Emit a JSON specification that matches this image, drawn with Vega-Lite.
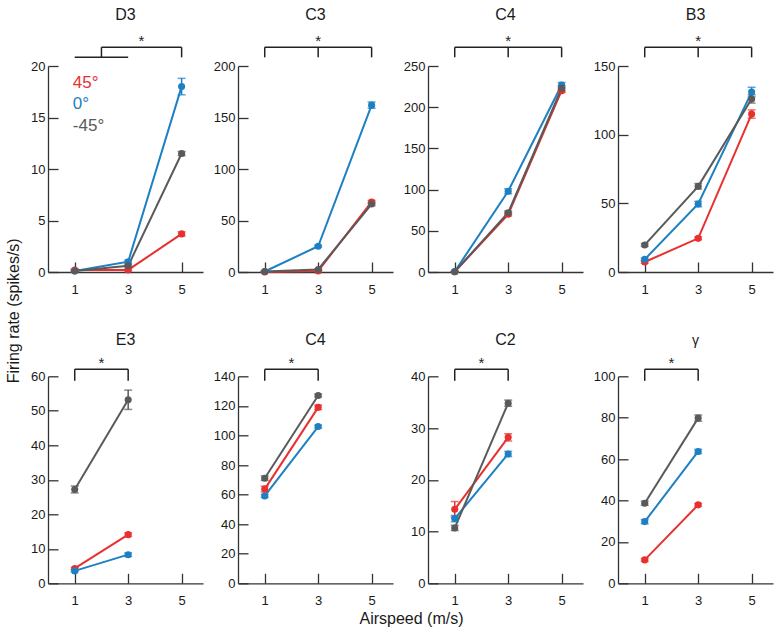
{
"$schema":"https://vega.github.io/schema/vega-lite/v6.json",
"padding":{"left":5,"top":7,"right":5,"bottom":5},
"datasets":{
"pts":[
{"p":"D3","a":"45°","s":1,"v":0.2,"lo":0.1,"hi":0.3},{"p":"D3","a":"45°","s":3,"v":0.2,"lo":0.1,"hi":0.3},{"p":"D3","a":"45°","s":5,"v":3.7,"lo":3.5,"hi":3.9},
{"p":"D3","a":"0°","s":1,"v":0.1,"lo":0,"hi":0.2},{"p":"D3","a":"0°","s":3,"v":1.0,"lo":0.85,"hi":1.15},{"p":"D3","a":"0°","s":5,"v":18.0,"lo":17.2,"hi":18.8},
{"p":"D3","a":"-45°","s":1,"v":0.1,"lo":0,"hi":0.2},{"p":"D3","a":"-45°","s":3,"v":0.6,"lo":0.5,"hi":0.7},{"p":"D3","a":"-45°","s":5,"v":11.5,"lo":11.3,"hi":11.7},
{"p":"C3","a":"45°","s":1,"v":0,"lo":0,"hi":0.3},{"p":"C3","a":"45°","s":3,"v":1,"lo":0.5,"hi":1.5},{"p":"C3","a":"45°","s":5,"v":68,"lo":66.5,"hi":69.5},
{"p":"C3","a":"0°","s":1,"v":0.5,"lo":0.2,"hi":0.8},{"p":"C3","a":"0°","s":3,"v":25,"lo":24,"hi":26},{"p":"C3","a":"0°","s":5,"v":162,"lo":159,"hi":165},
{"p":"C3","a":"-45°","s":1,"v":0.5,"lo":0.2,"hi":0.8},{"p":"C3","a":"-45°","s":3,"v":2.5,"lo":2,"hi":3},{"p":"C3","a":"-45°","s":5,"v":66,"lo":64.5,"hi":67.5},
{"p":"C4","a":"45°","s":1,"v":0.3,"lo":0,"hi":0.6},{"p":"C4","a":"45°","s":3,"v":70,"lo":68,"hi":72},{"p":"C4","a":"45°","s":5,"v":220,"lo":218,"hi":222},
{"p":"C4","a":"0°","s":1,"v":0.5,"lo":0.2,"hi":0.8},{"p":"C4","a":"0°","s":3,"v":98,"lo":95,"hi":101},{"p":"C4","a":"0°","s":5,"v":227,"lo":224,"hi":230},
{"p":"C4","a":"-45°","s":1,"v":0.4,"lo":0.1,"hi":0.7},{"p":"C4","a":"-45°","s":3,"v":72,"lo":70,"hi":74},{"p":"C4","a":"-45°","s":5,"v":223,"lo":220,"hi":226},
{"p":"B3","a":"45°","s":1,"v":7.3,"lo":6.3,"hi":8.3},{"p":"B3","a":"45°","s":3,"v":24.5,"lo":23.5,"hi":25.5},{"p":"B3","a":"45°","s":5,"v":115,"lo":112,"hi":118},
{"p":"B3","a":"0°","s":1,"v":9.2,"lo":8.2,"hi":10.2},{"p":"B3","a":"0°","s":3,"v":49.5,"lo":47.5,"hi":51.5},{"p":"B3","a":"0°","s":5,"v":131,"lo":127.5,"hi":134.5},
{"p":"B3","a":"-45°","s":1,"v":19.7,"lo":18.7,"hi":20.7},{"p":"B3","a":"-45°","s":3,"v":62.4,"lo":60.4,"hi":64.4},{"p":"B3","a":"-45°","s":5,"v":126,"lo":123,"hi":129},
{"p":"E3","a":"45°","s":1,"v":4.3,"lo":4,"hi":4.6},{"p":"E3","a":"45°","s":3,"v":14.1,"lo":13.6,"hi":14.6},
{"p":"E3","a":"0°","s":1,"v":3.6,"lo":3.3,"hi":3.9},{"p":"E3","a":"0°","s":3,"v":8.3,"lo":7.8,"hi":8.8},
{"p":"E3","a":"-45°","s":1,"v":27.2,"lo":26.2,"hi":28.2},{"p":"E3","a":"-45°","s":3,"v":53.2,"lo":50.4,"hi":56},
{"p":"C4b","a":"45°","s":1,"v":63.7,"lo":61.7,"hi":65.7},{"p":"C4b","a":"45°","s":3,"v":119,"lo":117.5,"hi":120.5},
{"p":"C4b","a":"0°","s":1,"v":59.1,"lo":58.1,"hi":60.1},{"p":"C4b","a":"0°","s":3,"v":106,"lo":105,"hi":107},
{"p":"C4b","a":"-45°","s":1,"v":71.1,"lo":69.6,"hi":72.6},{"p":"C4b","a":"-45°","s":3,"v":127,"lo":126,"hi":128},
{"p":"C2","a":"45°","s":1,"v":14.3,"lo":12.8,"hi":15.8},{"p":"C2","a":"45°","s":3,"v":28.2,"lo":27.5,"hi":28.9},
{"p":"C2","a":"0°","s":1,"v":12.5,"lo":11.9,"hi":13.1},{"p":"C2","a":"0°","s":3,"v":25,"lo":24.5,"hi":25.5},
{"p":"C2","a":"-45°","s":1,"v":10.7,"lo":10.2,"hi":11.2},{"p":"C2","a":"-45°","s":3,"v":34.8,"lo":34.2,"hi":35.4},
{"p":"G","a":"45°","s":1,"v":11.3,"lo":10.6,"hi":12},{"p":"G","a":"45°","s":3,"v":37.9,"lo":37.2,"hi":38.6},
{"p":"G","a":"0°","s":1,"v":29.8,"lo":28.8,"hi":30.8},{"p":"G","a":"0°","s":3,"v":63.7,"lo":62.7,"hi":64.7},
{"p":"G","a":"-45°","s":1,"v":38.7,"lo":37.7,"hi":39.7},{"p":"G","a":"-45°","s":3,"v":79.8,"lo":78.3,"hi":81.3}
],
"br":[
{"p":"D3","x":1,"x2":3,"y":20.84,"y2":20.84},{"p":"D3","x":2,"x2":2,"y":20.84,"y2":21.82},{"p":"D3","x":2,"x2":5,"y":21.82,"y2":21.82},{"p":"D3","x":5,"x2":5,"y":21.82,"y2":20.84},
{"p":"C3","x":1,"x2":5,"y":218.2,"y2":218.2},{"p":"C3","x":1,"x2":1,"y":218.2,"y2":208.4},{"p":"C3","x":3,"x2":3,"y":218.2,"y2":208.4},{"p":"C3","x":5,"x2":5,"y":218.2,"y2":208.4},
{"p":"C4","x":1,"x2":5,"y":272.7,"y2":272.7},{"p":"C4","x":1,"x2":1,"y":272.7,"y2":260.6},{"p":"C4","x":3,"x2":3,"y":272.7,"y2":260.6},{"p":"C4","x":5,"x2":5,"y":272.7,"y2":260.6},
{"p":"B3","x":1,"x2":5,"y":163.6,"y2":163.6},{"p":"B3","x":1,"x2":1,"y":163.6,"y2":156.3},{"p":"B3","x":3,"x2":3,"y":163.6,"y2":156.3},{"p":"B3","x":5,"x2":5,"y":163.6,"y2":156.3},
{"p":"E3","x":1,"x2":3,"y":62.03,"y2":62.03},{"p":"E3","x":1,"x2":1,"y":62.03,"y2":58.7},{"p":"E3","x":3,"x2":3,"y":62.03,"y2":58.7},
{"p":"C4b","x":1,"x2":3,"y":144.7,"y2":144.7},{"p":"C4b","x":1,"x2":1,"y":144.7,"y2":137.0},{"p":"C4b","x":3,"x2":3,"y":144.7,"y2":137.0},
{"p":"C2","x":1,"x2":3,"y":41.35,"y2":41.35},{"p":"C2","x":1,"x2":1,"y":41.35,"y2":39.13},{"p":"C2","x":3,"x2":3,"y":41.35,"y2":39.13},
{"p":"G","x":1,"x2":3,"y":103.4,"y2":103.4},{"p":"G","x":1,"x2":1,"y":103.4,"y2":97.8},{"p":"G","x":3,"x2":3,"y":103.4,"y2":97.8}
],
"ast":[
{"p":"D3","x":3.5,"y":21.82},{"p":"C3","x":3,"y":218.2},{"p":"C4","x":3,"y":272.7},{"p":"B3","x":3,"y":163.6},
{"p":"E3","x":2,"y":62.03},{"p":"C4b","x":2,"y":144.7},{"p":"C2","x":2,"y":41.35},{"p":"G","x":2,"y":103.4}
],
"leg":[
{"t":"45°","a":"45°","x":0.93,"y":18.32},{"t":"0°","a":"0°","x":0.93,"y":16.28},{"t":"-45°","a":"-45°","x":0.93,"y":14.2}
]
},
"columns":4,
"bounds":"flush",
"spacing":{"row":104.3,"column":35},
"concat":[
{"width":155,"height":206,"title":{"text":"D3","offset":11},
"layer":[
{"data":{"name":"pts"},"transform":[{"filter":"datum.p==='D3'"}],"mark":{"type":"line","strokeWidth":2},"encoding":{"x":{"field":"s","type":"quantitative","title":null,"scale":{"domain":[0,5.8],"nice":false},"axis":{"values":[1,3,5],"format":"d"}},
"y":{"field":"v","type":"quantitative","title":"Firing rate (spikes/s)","scale":{"domain":[0,20],"nice":false},"axis":{"values":[0,5,10,15,20],"tickCount":20,"format":"d","labelOverlap":false,"titleX":-35,"titleY":244.3,"titleAngle":270,"titleAlign":"center","titleBaseline":"middle"}},"color":{"field":"a","type":"nominal"}}},
{"data":{"name":"pts"},"transform":[{"filter":"datum.p==='D3'"}],"mark":{"type":"rule","strokeWidth":1.5},"encoding":{"x":{"field":"s","type":"quantitative","title":null},"y":{"field":"lo","type":"quantitative","title":"Firing rate (spikes/s)"},"y2":{"field":"hi"},"color":{"field":"a","type":"nominal"}}},
{"data":{"name":"pts"},"transform":[{"filter":"datum.p==='D3'"}],"mark":{"type":"tick","orient":"horizontal","size":8,"thickness":1.5},"encoding":{"x":{"field":"s","type":"quantitative","title":null},"y":{"field":"lo","type":"quantitative","title":"Firing rate (spikes/s)"},"color":{"field":"a","type":"nominal"}}},
{"data":{"name":"pts"},"transform":[{"filter":"datum.p==='D3'"}],"mark":{"type":"tick","orient":"horizontal","size":8,"thickness":1.5},"encoding":{"x":{"field":"s","type":"quantitative","title":null},"y":{"field":"hi","type":"quantitative","title":"Firing rate (spikes/s)"},"color":{"field":"a","type":"nominal"}}},
{"data":{"name":"pts"},"transform":[{"filter":"datum.p==='D3'"}],"mark":{"type":"circle","size":50,"opacity":1},"encoding":{"x":{"field":"s","type":"quantitative","title":null},"y":{"field":"v","type":"quantitative","title":"Firing rate (spikes/s)"},"color":{"field":"a","type":"nominal"}}},
{"data":{"name":"br"},"transform":[{"filter":"datum.p==='D3'"}],"mark":{"type":"rule","color":"#222","strokeWidth":1.5},"encoding":{"x":{"field":"x","type":"quantitative","title":null},"x2":{"field":"x2"},"y":{"field":"y","type":"quantitative","title":"Firing rate (spikes/s)"},"y2":{"field":"y2"}}},
{"data":{"name":"ast"},"transform":[{"filter":"datum.p==='D3'"}],"mark":{"type":"text","text":"*","fontSize":15,"baseline":"alphabetic","dy":-1,"color":"#222"},"encoding":{"x":{"field":"x","type":"quantitative","title":null},"y":{"field":"y","type":"quantitative","title":"Firing rate (spikes/s)"}}},
{"data":{"name":"leg"},"mark":{"type":"text","fontSize":17,"align":"left","baseline":"middle"},"encoding":{"x":{"field":"x","type":"quantitative","title":null},"y":{"field":"y","type":"quantitative","title":"Firing rate (spikes/s)"},"text":{"field":"t"},"color":{"field":"a","type":"nominal"}}}
]},
{"width":155,"height":206,"title":{"text":"C3","offset":11},
"layer":[
{"data":{"name":"pts"},"transform":[{"filter":"datum.p==='C3'"}],"mark":{"type":"line","strokeWidth":2},"encoding":{"x":{"field":"s","type":"quantitative","title":null,"scale":{"domain":[0,5.8],"nice":false},"axis":{"values":[1,3,5],"format":"d"}},
"y":{"field":"v","type":"quantitative","title":null,"scale":{"domain":[0,200],"nice":false},"axis":{"values":[0,50,100,150,200],"tickCount":20,"format":"d","labelOverlap":false}},"color":{"field":"a","type":"nominal"}}},
{"data":{"name":"pts"},"transform":[{"filter":"datum.p==='C3'"}],"mark":{"type":"rule","strokeWidth":1.5},"encoding":{"x":{"field":"s","type":"quantitative","title":null},"y":{"field":"lo","type":"quantitative","title":null},"y2":{"field":"hi"},"color":{"field":"a","type":"nominal"}}},
{"data":{"name":"pts"},"transform":[{"filter":"datum.p==='C3'"}],"mark":{"type":"tick","orient":"horizontal","size":8,"thickness":1.5},"encoding":{"x":{"field":"s","type":"quantitative","title":null},"y":{"field":"lo","type":"quantitative","title":null},"color":{"field":"a","type":"nominal"}}},
{"data":{"name":"pts"},"transform":[{"filter":"datum.p==='C3'"}],"mark":{"type":"tick","orient":"horizontal","size":8,"thickness":1.5},"encoding":{"x":{"field":"s","type":"quantitative","title":null},"y":{"field":"hi","type":"quantitative","title":null},"color":{"field":"a","type":"nominal"}}},
{"data":{"name":"pts"},"transform":[{"filter":"datum.p==='C3'"}],"mark":{"type":"circle","size":50,"opacity":1},"encoding":{"x":{"field":"s","type":"quantitative","title":null},"y":{"field":"v","type":"quantitative","title":null},"color":{"field":"a","type":"nominal"}}},
{"data":{"name":"br"},"transform":[{"filter":"datum.p==='C3'"}],"mark":{"type":"rule","color":"#222","strokeWidth":1.5},"encoding":{"x":{"field":"x","type":"quantitative","title":null},"x2":{"field":"x2"},"y":{"field":"y","type":"quantitative","title":null},"y2":{"field":"y2"}}},
{"data":{"name":"ast"},"transform":[{"filter":"datum.p==='C3'"}],"mark":{"type":"text","text":"*","fontSize":15,"baseline":"alphabetic","dy":-1,"color":"#222"},"encoding":{"x":{"field":"x","type":"quantitative","title":null},"y":{"field":"y","type":"quantitative","title":null}}}
]},
{"width":155,"height":206,"title":{"text":"C4","offset":11},
"layer":[
{"data":{"name":"pts"},"transform":[{"filter":"datum.p==='C4'"}],"mark":{"type":"line","strokeWidth":2},"encoding":{"x":{"field":"s","type":"quantitative","title":null,"scale":{"domain":[0,5.8],"nice":false},"axis":{"values":[1,3,5],"format":"d"}},
"y":{"field":"v","type":"quantitative","title":null,"scale":{"domain":[0,250],"nice":false},"axis":{"values":[0,50,100,150,200,250],"tickCount":20,"format":"d","labelOverlap":false}},"color":{"field":"a","type":"nominal"}}},
{"data":{"name":"pts"},"transform":[{"filter":"datum.p==='C4'"}],"mark":{"type":"rule","strokeWidth":1.5},"encoding":{"x":{"field":"s","type":"quantitative","title":null},"y":{"field":"lo","type":"quantitative","title":null},"y2":{"field":"hi"},"color":{"field":"a","type":"nominal"}}},
{"data":{"name":"pts"},"transform":[{"filter":"datum.p==='C4'"}],"mark":{"type":"tick","orient":"horizontal","size":8,"thickness":1.5},"encoding":{"x":{"field":"s","type":"quantitative","title":null},"y":{"field":"lo","type":"quantitative","title":null},"color":{"field":"a","type":"nominal"}}},
{"data":{"name":"pts"},"transform":[{"filter":"datum.p==='C4'"}],"mark":{"type":"tick","orient":"horizontal","size":8,"thickness":1.5},"encoding":{"x":{"field":"s","type":"quantitative","title":null},"y":{"field":"hi","type":"quantitative","title":null},"color":{"field":"a","type":"nominal"}}},
{"data":{"name":"pts"},"transform":[{"filter":"datum.p==='C4'"}],"mark":{"type":"circle","size":50,"opacity":1},"encoding":{"x":{"field":"s","type":"quantitative","title":null},"y":{"field":"v","type":"quantitative","title":null},"color":{"field":"a","type":"nominal"}}},
{"data":{"name":"br"},"transform":[{"filter":"datum.p==='C4'"}],"mark":{"type":"rule","color":"#222","strokeWidth":1.5},"encoding":{"x":{"field":"x","type":"quantitative","title":null},"x2":{"field":"x2"},"y":{"field":"y","type":"quantitative","title":null},"y2":{"field":"y2"}}},
{"data":{"name":"ast"},"transform":[{"filter":"datum.p==='C4'"}],"mark":{"type":"text","text":"*","fontSize":15,"baseline":"alphabetic","dy":-1,"color":"#222"},"encoding":{"x":{"field":"x","type":"quantitative","title":null},"y":{"field":"y","type":"quantitative","title":null}}}
]},
{"width":155,"height":206,"title":{"text":"B3","offset":11},
"layer":[
{"data":{"name":"pts"},"transform":[{"filter":"datum.p==='B3'"}],"mark":{"type":"line","strokeWidth":2},"encoding":{"x":{"field":"s","type":"quantitative","title":null,"scale":{"domain":[0,5.8],"nice":false},"axis":{"values":[1,3,5],"format":"d"}},
"y":{"field":"v","type":"quantitative","title":null,"scale":{"domain":[0,150],"nice":false},"axis":{"values":[0,50,100,150],"tickCount":20,"format":"d","labelOverlap":false}},"color":{"field":"a","type":"nominal"}}},
{"data":{"name":"pts"},"transform":[{"filter":"datum.p==='B3'"}],"mark":{"type":"rule","strokeWidth":1.5},"encoding":{"x":{"field":"s","type":"quantitative","title":null},"y":{"field":"lo","type":"quantitative","title":null},"y2":{"field":"hi"},"color":{"field":"a","type":"nominal"}}},
{"data":{"name":"pts"},"transform":[{"filter":"datum.p==='B3'"}],"mark":{"type":"tick","orient":"horizontal","size":8,"thickness":1.5},"encoding":{"x":{"field":"s","type":"quantitative","title":null},"y":{"field":"lo","type":"quantitative","title":null},"color":{"field":"a","type":"nominal"}}},
{"data":{"name":"pts"},"transform":[{"filter":"datum.p==='B3'"}],"mark":{"type":"tick","orient":"horizontal","size":8,"thickness":1.5},"encoding":{"x":{"field":"s","type":"quantitative","title":null},"y":{"field":"hi","type":"quantitative","title":null},"color":{"field":"a","type":"nominal"}}},
{"data":{"name":"pts"},"transform":[{"filter":"datum.p==='B3'"}],"mark":{"type":"circle","size":50,"opacity":1},"encoding":{"x":{"field":"s","type":"quantitative","title":null},"y":{"field":"v","type":"quantitative","title":null},"color":{"field":"a","type":"nominal"}}},
{"data":{"name":"br"},"transform":[{"filter":"datum.p==='B3'"}],"mark":{"type":"rule","color":"#222","strokeWidth":1.5},"encoding":{"x":{"field":"x","type":"quantitative","title":null},"x2":{"field":"x2"},"y":{"field":"y","type":"quantitative","title":null},"y2":{"field":"y2"}}},
{"data":{"name":"ast"},"transform":[{"filter":"datum.p==='B3'"}],"mark":{"type":"text","text":"*","fontSize":15,"baseline":"alphabetic","dy":-1,"color":"#222"},"encoding":{"x":{"field":"x","type":"quantitative","title":null},"y":{"field":"y","type":"quantitative","title":null}}}
]},
{"width":155,"height":207,"title":{"text":"E3","offset":8.7},
"layer":[
{"data":{"name":"pts"},"transform":[{"filter":"datum.p==='E3'"}],"mark":{"type":"line","strokeWidth":2},"encoding":{"x":{"field":"s","type":"quantitative","title":null,"scale":{"domain":[0,5.8],"nice":false},"axis":{"values":[1,3,5],"format":"d"}},
"y":{"field":"v","type":"quantitative","title":null,"scale":{"domain":[0,60],"nice":false},"axis":{"values":[0,10,20,30,40,50,60],"tickCount":20,"format":"d","labelOverlap":false}},"color":{"field":"a","type":"nominal"}}},
{"data":{"name":"pts"},"transform":[{"filter":"datum.p==='E3'"}],"mark":{"type":"rule","strokeWidth":1.5},"encoding":{"x":{"field":"s","type":"quantitative","title":null},"y":{"field":"lo","type":"quantitative","title":null},"y2":{"field":"hi"},"color":{"field":"a","type":"nominal"}}},
{"data":{"name":"pts"},"transform":[{"filter":"datum.p==='E3'"}],"mark":{"type":"tick","orient":"horizontal","size":8,"thickness":1.5},"encoding":{"x":{"field":"s","type":"quantitative","title":null},"y":{"field":"lo","type":"quantitative","title":null},"color":{"field":"a","type":"nominal"}}},
{"data":{"name":"pts"},"transform":[{"filter":"datum.p==='E3'"}],"mark":{"type":"tick","orient":"horizontal","size":8,"thickness":1.5},"encoding":{"x":{"field":"s","type":"quantitative","title":null},"y":{"field":"hi","type":"quantitative","title":null},"color":{"field":"a","type":"nominal"}}},
{"data":{"name":"pts"},"transform":[{"filter":"datum.p==='E3'"}],"mark":{"type":"circle","size":50,"opacity":1},"encoding":{"x":{"field":"s","type":"quantitative","title":null},"y":{"field":"v","type":"quantitative","title":null},"color":{"field":"a","type":"nominal"}}},
{"data":{"name":"br"},"transform":[{"filter":"datum.p==='E3'"}],"mark":{"type":"rule","color":"#222","strokeWidth":1.5},"encoding":{"x":{"field":"x","type":"quantitative","title":null},"x2":{"field":"x2"},"y":{"field":"y","type":"quantitative","title":null},"y2":{"field":"y2"}}},
{"data":{"name":"ast"},"transform":[{"filter":"datum.p==='E3'"}],"mark":{"type":"text","text":"*","fontSize":15,"baseline":"alphabetic","dy":-1,"color":"#222"},"encoding":{"x":{"field":"x","type":"quantitative","title":null},"y":{"field":"y","type":"quantitative","title":null}}}
]},
{"width":155,"height":207,"title":{"text":"C4","offset":8.7},
"layer":[
{"data":{"name":"pts"},"transform":[{"filter":"datum.p==='C4b'"}],"mark":{"type":"line","strokeWidth":2},"encoding":{"x":{"field":"s","type":"quantitative","title":null,"scale":{"domain":[0,5.8],"nice":false},"axis":{"values":[1,3,5],"format":"d"}},
"y":{"field":"v","type":"quantitative","title":null,"scale":{"domain":[0,140],"nice":false},"axis":{"values":[0,20,40,60,80,100,120,140],"tickCount":20,"format":"d","labelOverlap":false}},"color":{"field":"a","type":"nominal"}}},
{"data":{"name":"pts"},"transform":[{"filter":"datum.p==='C4b'"}],"mark":{"type":"rule","strokeWidth":1.5},"encoding":{"x":{"field":"s","type":"quantitative","title":null},"y":{"field":"lo","type":"quantitative","title":null},"y2":{"field":"hi"},"color":{"field":"a","type":"nominal"}}},
{"data":{"name":"pts"},"transform":[{"filter":"datum.p==='C4b'"}],"mark":{"type":"tick","orient":"horizontal","size":8,"thickness":1.5},"encoding":{"x":{"field":"s","type":"quantitative","title":null},"y":{"field":"lo","type":"quantitative","title":null},"color":{"field":"a","type":"nominal"}}},
{"data":{"name":"pts"},"transform":[{"filter":"datum.p==='C4b'"}],"mark":{"type":"tick","orient":"horizontal","size":8,"thickness":1.5},"encoding":{"x":{"field":"s","type":"quantitative","title":null},"y":{"field":"hi","type":"quantitative","title":null},"color":{"field":"a","type":"nominal"}}},
{"data":{"name":"pts"},"transform":[{"filter":"datum.p==='C4b'"}],"mark":{"type":"circle","size":50,"opacity":1},"encoding":{"x":{"field":"s","type":"quantitative","title":null},"y":{"field":"v","type":"quantitative","title":null},"color":{"field":"a","type":"nominal"}}},
{"data":{"name":"br"},"transform":[{"filter":"datum.p==='C4b'"}],"mark":{"type":"rule","color":"#222","strokeWidth":1.5},"encoding":{"x":{"field":"x","type":"quantitative","title":null},"x2":{"field":"x2"},"y":{"field":"y","type":"quantitative","title":null},"y2":{"field":"y2"}}},
{"data":{"name":"ast"},"transform":[{"filter":"datum.p==='C4b'"}],"mark":{"type":"text","text":"*","fontSize":15,"baseline":"alphabetic","dy":-1,"color":"#222"},"encoding":{"x":{"field":"x","type":"quantitative","title":null},"y":{"field":"y","type":"quantitative","title":null}}}
]},
{"width":155,"height":207,"title":{"text":"C2","offset":8.7},
"layer":[
{"data":{"name":"pts"},"transform":[{"filter":"datum.p==='C2'"}],"mark":{"type":"line","strokeWidth":2},"encoding":{"x":{"field":"s","type":"quantitative","title":"Airspeed (m/s)","scale":{"domain":[0,5.8],"nice":false},"axis":{"values":[1,3,5],"format":"d","titleX":-17,"titleY":40,"titleAlign":"center","titleBaseline":"alphabetic"}},
"y":{"field":"v","type":"quantitative","title":null,"scale":{"domain":[0,40],"nice":false},"axis":{"values":[0,10,20,30,40],"tickCount":20,"format":"d","labelOverlap":false}},"color":{"field":"a","type":"nominal"}}},
{"data":{"name":"pts"},"transform":[{"filter":"datum.p==='C2'"}],"mark":{"type":"rule","strokeWidth":1.5},"encoding":{"x":{"field":"s","type":"quantitative","title":"Airspeed (m/s)"},"y":{"field":"lo","type":"quantitative","title":null},"y2":{"field":"hi"},"color":{"field":"a","type":"nominal"}}},
{"data":{"name":"pts"},"transform":[{"filter":"datum.p==='C2'"}],"mark":{"type":"tick","orient":"horizontal","size":8,"thickness":1.5},"encoding":{"x":{"field":"s","type":"quantitative","title":"Airspeed (m/s)"},"y":{"field":"lo","type":"quantitative","title":null},"color":{"field":"a","type":"nominal"}}},
{"data":{"name":"pts"},"transform":[{"filter":"datum.p==='C2'"}],"mark":{"type":"tick","orient":"horizontal","size":8,"thickness":1.5},"encoding":{"x":{"field":"s","type":"quantitative","title":"Airspeed (m/s)"},"y":{"field":"hi","type":"quantitative","title":null},"color":{"field":"a","type":"nominal"}}},
{"data":{"name":"pts"},"transform":[{"filter":"datum.p==='C2'"}],"mark":{"type":"circle","size":50,"opacity":1},"encoding":{"x":{"field":"s","type":"quantitative","title":"Airspeed (m/s)"},"y":{"field":"v","type":"quantitative","title":null},"color":{"field":"a","type":"nominal"}}},
{"data":{"name":"br"},"transform":[{"filter":"datum.p==='C2'"}],"mark":{"type":"rule","color":"#222","strokeWidth":1.5},"encoding":{"x":{"field":"x","type":"quantitative","title":"Airspeed (m/s)"},"x2":{"field":"x2"},"y":{"field":"y","type":"quantitative","title":null},"y2":{"field":"y2"}}},
{"data":{"name":"ast"},"transform":[{"filter":"datum.p==='C2'"}],"mark":{"type":"text","text":"*","fontSize":15,"baseline":"alphabetic","dy":-1,"color":"#222"},"encoding":{"x":{"field":"x","type":"quantitative","title":"Airspeed (m/s)"},"y":{"field":"y","type":"quantitative","title":null}}}
]},
{"width":155,"height":207,"title":{"text":"γ","offset":8.7,"fontSize":14},
"layer":[
{"data":{"name":"pts"},"transform":[{"filter":"datum.p==='G'"}],"mark":{"type":"line","strokeWidth":2},"encoding":{"x":{"field":"s","type":"quantitative","title":null,"scale":{"domain":[0,5.8],"nice":false},"axis":{"values":[1,3,5],"format":"d"}},
"y":{"field":"v","type":"quantitative","title":null,"scale":{"domain":[0,100],"nice":false},"axis":{"values":[0,20,40,60,80,100],"tickCount":20,"format":"d","labelOverlap":false}},"color":{"field":"a","type":"nominal"}}},
{"data":{"name":"pts"},"transform":[{"filter":"datum.p==='G'"}],"mark":{"type":"rule","strokeWidth":1.5},"encoding":{"x":{"field":"s","type":"quantitative","title":null},"y":{"field":"lo","type":"quantitative","title":null},"y2":{"field":"hi"},"color":{"field":"a","type":"nominal"}}},
{"data":{"name":"pts"},"transform":[{"filter":"datum.p==='G'"}],"mark":{"type":"tick","orient":"horizontal","size":8,"thickness":1.5},"encoding":{"x":{"field":"s","type":"quantitative","title":null},"y":{"field":"lo","type":"quantitative","title":null},"color":{"field":"a","type":"nominal"}}},
{"data":{"name":"pts"},"transform":[{"filter":"datum.p==='G'"}],"mark":{"type":"tick","orient":"horizontal","size":8,"thickness":1.5},"encoding":{"x":{"field":"s","type":"quantitative","title":null},"y":{"field":"hi","type":"quantitative","title":null},"color":{"field":"a","type":"nominal"}}},
{"data":{"name":"pts"},"transform":[{"filter":"datum.p==='G'"}],"mark":{"type":"circle","size":50,"opacity":1},"encoding":{"x":{"field":"s","type":"quantitative","title":null},"y":{"field":"v","type":"quantitative","title":null},"color":{"field":"a","type":"nominal"}}},
{"data":{"name":"br"},"transform":[{"filter":"datum.p==='G'"}],"mark":{"type":"rule","color":"#222","strokeWidth":1.5},"encoding":{"x":{"field":"x","type":"quantitative","title":null},"x2":{"field":"x2"},"y":{"field":"y","type":"quantitative","title":null},"y2":{"field":"y2"}}},
{"data":{"name":"ast"},"transform":[{"filter":"datum.p==='G'"}],"mark":{"type":"text","text":"*","fontSize":15,"baseline":"alphabetic","dy":-1,"color":"#222"},"encoding":{"x":{"field":"x","type":"quantitative","title":null},"y":{"field":"y","type":"quantitative","title":null}}}
]}
],
"config":{
"font":"Liberation Sans",
"view":{"stroke":null},
"legend":{"disable":true},
"range":{"category":["#5a5a5a","#1d80c3","#e8302f"]},
"axis":{"grid":false,"domainColor":"#333","domainWidth":1.3,"tickColor":"#333","tickWidth":1.3,"tickSize":-10,"labelColor":"#1a1a1a","labelFontSize":13,"labelFlush":false,"labelOverlap":false,"titleFontSize":16,"titleFontWeight":"normal","titleColor":"#1a1a1a"},
"axisX":{"labelPadding":21},
"axisY":{"labelPadding":13},
"title":{"fontSize":16,"fontWeight":"normal","color":"#1a1a1a","baseline":"alphabetic","frame":"group"}
}
}
